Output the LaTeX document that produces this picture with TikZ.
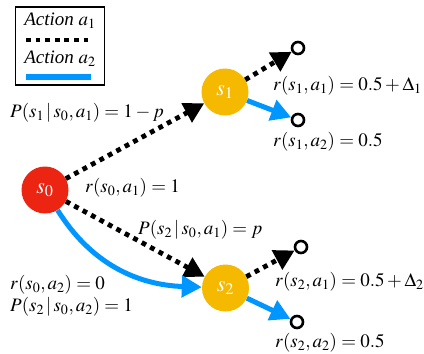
\documentclass[tikz,border=0pt]{standalone}
\usepackage{mathptmx}
\usepackage{fontspec}
\setmainfont{Liberation Serif}
\usetikzlibrary{arrows.meta}
\definecolor{myblue}{RGB}{0,150,255}
\definecolor{myred}{RGB}{236,36,18}
\definecolor{myyellow}{RGB}{245,185,0}
\tikzset{
  state/.style={circle, minimum size=47pt, inner sep=0pt, text=white, font=\fontsize{22}{22}\selectfont},
  term/.style={circle, draw=black, line width=2.6pt, fill=white, minimum size=12pt, inner sep=0pt},
  lab/.style={font=\fontsize{19}{21}\selectfont, inner sep=0pt, anchor=west},
  actone/.style={line width=4.8pt, dash pattern=on 4.8pt off 4.8pt, -{Triangle[length=20pt,width=21pt]}},
  acttwo/.style={line width=5pt, myblue, -{Triangle[length=20pt,width=21pt]}},
}
\begin{document}
\begin{tikzpicture}[x=1pt,y=-1pt]
\useasboundingbox (0,0) rectangle (424,354);
% legend
\node[draw, line width=1.6pt, minimum width=89pt, minimum height=78pt, inner sep=0pt] (legend) at (60,46) {};
\node[font=\fontsize{19}{21}\selectfont, inner sep=0pt] (l1) at (60,21) {\textit{Action} $a_1$};
\node[font=\fontsize{19}{21}\selectfont, inner sep=0pt] (l2) at (60,59) {\textit{Action} $a_2$};
\coordinate (d1a) at (26,40); \coordinate (d1b) at (91,40);
\coordinate (d2a) at (26,77); \coordinate (d2b) at (91,77);
\draw[line width=4.8pt, dash pattern=on 4.8pt off 4.8pt] (d1a) -- (d1b);
\draw[line width=6pt, myblue] (d2a) -- (d2b);
% states
\node[state, fill=myred] (s0) at (45,190) {$s_0$};
\node[state, fill=myyellow] (s1) at (225,92) {$s_1$};
\node[state, fill=myyellow] (s2) at (225.5,288) {$s_2$};
% terminals
\node[term] (t11) at (298,48) {};
\node[term] (t12) at (298,120) {};
\node[term] (t21) at (301,247) {};
\node[term] (t22) at (297,322) {};
% edges
\draw[actone] (s0) -- (s1);
\draw[actone] (s0) -- (s2);
\draw[acttwo] (s0) to[out=-58, in=178] (s2);
\draw[actone] (s1) -- (t11);
\draw[acttwo] (s1) -- (t12);
\draw[actone] (s2) -- (t21);
\draw[acttwo] (s2) -- (t22);
% labels
\node[lab] (p1) at (10,113) {$P(s_1\,|\,s_0,a_1)=1-p$};
\node[lab] (r01) at (85,188) {$r(s_0,a_1)=1$};
\node[lab] (p2) at (138,230) {$P(s_2\,|\,s_0,a_1)=p$};
\node[lab] (r02) at (10,285) {$r(s_0,a_2)=0$};
\node[lab] (p3) at (10,307) {$P(s_2\,|\,s_0,a_2)=1$};
\node[lab] (r11) at (273,86) {$r(s_1,a_1)=0.5+\Delta_1$};
\node[lab] (r12) at (273,142) {$r(s_1,a_2)=0.5$};
\node[lab] (r21) at (275,282) {$r(s_2,a_1)=0.5+\Delta_2$};
\node[lab] (r22) at (275,343) {$r(s_2,a_2)=0.5$};
\end{tikzpicture}
\end{document}
